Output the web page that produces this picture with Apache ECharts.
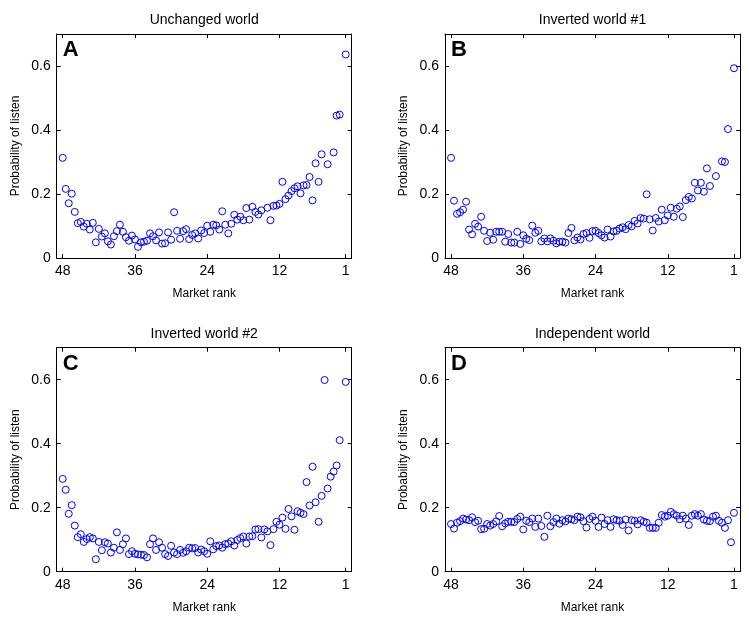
<!DOCTYPE html>
<html>
<head>
<meta charset="utf-8">
<script src="https://cdn.jsdelivr.net/npm/echarts@6/dist/echarts.min.js"></script>
<style>
  html, body { margin: 0; padding: 0; background: #fff; }
  #chart { width: 749px; height: 620px; }
</style>
</head>
<body>
<div id="chart"></div>
<script>
// market rank of each point (shared by all four worlds)
const ranks = [48, 47.5, 47, 46.5, 46, 45.5, 45, 44.5, 44, 43.5, 43, 42.5, 42, 41.5, 41, 40.5,
  40, 39.5, 39, 38.5, 38, 37.5, 37, 36.5, 36, 35.5, 35, 34.5, 34, 33.5, 33, 32.5, 32, 31.5,
  31, 30.5, 30, 29.5, 29, 28.5, 28, 27.5, 27, 26.5, 26, 25.5, 25, 24.5, 24, 23.5, 23, 22.5,
  22, 21.5, 21, 20.5, 20, 19.5, 19, 18.5, 18, 17.5, 17, 16.5, 16, 15.5, 15, 14.5, 14, 13.5,
  13, 12.5, 12, 11.5, 11, 10.5, 10, 9.5, 9, 8.5, 8, 7.5, 7, 6.5, 6, 5.5, 5, 4.5, 4, 3.5,
  3, 2.5, 2, 1.5, 1];

// probability of listen, one value per rank (null = no point)
const probUnchanged = [0.313, 0.216, 0.171, 0.201, 0.144, 0.109, 0.113, 0.098, 0.107, 0.089,
  0.110, 0.049, 0.091, 0.067, 0.077, 0.052, 0.042, 0.068, 0.084, 0.104,
  0.082, 0.065, 0.054, 0.070, 0.058, 0.035, 0.049, 0.051, 0.054, 0.077,
  0.068, 0.055, 0.080, 0.045, 0.046, 0.080, 0.057, 0.143, 0.085, 0.060,
  0.084, 0.090, 0.059, 0.072, 0.077, 0.061, 0.086, 0.078, 0.101, 0.082,
  0.104, 0.102, 0.089, 0.146, 0.104, 0.077, 0.107, 0.135, 0.120, 0.129,
  0.118, 0.156, 0.120, 0.160, 0.144, 0.136, 0.149, null, 0.157, 0.118,
  0.163, 0.164, 0.169, 0.238, 0.184, 0.195, 0.209, 0.218, 0.224, 0.202,
  0.227, 0.228, 0.253, 0.180, 0.296, 0.238, 0.324, null, 0.293, null,
  0.330, 0.445, 0.448, null, 0.636];

const probInverted1 = [0.313, 0.179, 0.138, 0.143, 0.151, 0.176, 0.089, 0.074, 0.107, 0.098,
  0.129, 0.085, 0.053, 0.079, 0.057, 0.082, 0.082, 0.082, 0.051, 0.075,
  0.048, 0.048, 0.082, 0.044, 0.071, 0.060, 0.056, 0.101, 0.079, 0.085,
  0.052, 0.061, 0.052, 0.061, 0.054, 0.046, 0.051, 0.051, 0.048, 0.078,
  0.094, 0.055, 0.064, 0.058, 0.075, 0.078, 0.063, 0.084, 0.085, 0.078,
  0.071, 0.064, 0.089, 0.067, 0.083, 0.085, 0.092, 0.096, 0.090, 0.103,
  0.099, 0.116, 0.108, 0.125, 0.123, 0.199, 0.121, 0.086, 0.125, 0.114,
  0.151, 0.118, 0.133, 0.157, 0.129, 0.154, 0.161, 0.128, 0.181, 0.191,
  0.186, 0.235, 0.211, 0.235, 0.207, 0.280, 0.225, null, 0.256, null,
  0.302, 0.300, 0.403, null, 0.593];

const probInverted2 = [0.290, 0.256, 0.181, 0.208, 0.144, 0.108, 0.117, 0.093, 0.102, 0.108,
  0.104, 0.039, 0.093, 0.067, 0.092, 0.088, 0.060, 0.075, 0.123, 0.068,
  0.086, 0.104, 0.055, 0.064, 0.056, 0.054, 0.053, 0.052, 0.045, 0.086,
  0.104, 0.068, 0.092, 0.075, 0.055, 0.049, 0.081, 0.060, 0.055, 0.068,
  0.059, 0.064, 0.075, 0.073, 0.074, 0.060, 0.069, 0.064, 0.056, 0.095,
  0.070, 0.080, 0.082, 0.075, 0.086, 0.088, 0.095, 0.082, 0.099, 0.105,
  0.110, 0.088, 0.110, 0.111, 0.132, 0.133, 0.107, 0.132, 0.126, 0.083,
  0.133, 0.156, 0.147, 0.169, 0.134, 0.196, 0.173, 0.131, 0.189, 0.184,
  0.180, 0.280, 0.207, 0.328, 0.217, 0.156, 0.237, 0.599, 0.260, 0.297,
  0.313, 0.332, 0.411, null, 0.593];

const probIndependent = [0.149, 0.135, 0.153, 0.158, 0.166, 0.163, 0.161, 0.170, 0.155, 0.159,
  0.133, 0.134, 0.149, 0.144, 0.149, 0.157, 0.174, 0.142, 0.151, 0.156,
  0.156, 0.155, 0.165, 0.172, 0.132, 0.159, 0.155, 0.166, 0.140, 0.166,
  0.143, 0.109, 0.175, 0.142, 0.155, 0.166, 0.150, 0.161, 0.157, 0.166,
  0.164, 0.161, 0.172, 0.170, 0.158, 0.138, 0.165, 0.172, 0.159, 0.140,
  0.169, 0.149, 0.161, 0.140, 0.164, 0.161, 0.159, 0.146, 0.163, 0.129,
  0.161, 0.159, 0.148, 0.161, 0.156, 0.153, 0.137, 0.137, 0.137, 0.153,
  0.177, 0.172, 0.175, 0.187, 0.180, 0.175, 0.164, 0.175, 0.166, 0.146,
  0.175, 0.180, 0.175, 0.180, 0.163, 0.159, 0.158, 0.172, 0.175, 0.159,
  0.153, 0.137, 0.161, 0.092, 0.184];

const xTicks = [48, 36, 24, 12, 1];
const yTicks = [0, 0.2, 0.4, 0.6];

const panels = [
  { title: 'Unchanged world', letter: 'A', values: probUnchanged, left: 56.7, top: 34 },
  { title: 'Inverted world #1', letter: 'B', values: probInverted1, left: 445, top: 34 },
  { title: 'Inverted world #2', letter: 'C', values: probInverted2, left: 56.7, top: 347.7 },
  { title: 'Independent world', letter: 'D', values: probIndependent, left: 445, top: 347.7 }
];
const plotW = 295;
const plotH = 224;
const font = '"Liberation Sans", Arial, Helvetica, sans-serif';

const chart = echarts.init(document.getElementById('chart'), null, { renderer: 'canvas' });

const grid = [], xAxis = [], yAxis = [], series = [], graphic = [];

const tickStyle = { inside: true, length: 4, lineStyle: { color: '#000', width: 1 } };
const lineStyle = { show: true, onZero: false, lineStyle: { color: '#000', width: 1 } };

panels.forEach((p, i) => {
  grid.push({ left: p.left, top: p.top, width: plotW, height: plotH });

  // bottom axis with labels + top axis as box edge
  xAxis.push({
    type: 'value', gridIndex: i, min: 0, max: 49, inverse: true, position: 'bottom',
    axisLine: lineStyle,
    axisTick: Object.assign({ customValues: xTicks }, tickStyle),
    axisLabel: { customValues: xTicks, color: '#000', fontSize: 14, fontFamily: font, margin: 6 },
    splitLine: { show: false },
    name: 'Market rank', nameLocation: 'middle', nameGap: 30,
    nameTextStyle: { color: '#000', fontSize: 12, fontFamily: font }
  });
  xAxis.push({
    type: 'value', gridIndex: i, min: 0, max: 49, inverse: true, position: 'top',
    axisLine: lineStyle,
    axisTick: Object.assign({ customValues: xTicks }, tickStyle),
    axisLabel: { show: false },
    splitLine: { show: false }
  });

  yAxis.push({
    type: 'value', gridIndex: i, min: 0, max: 0.7, position: 'left',
    axisLine: lineStyle,
    axisTick: Object.assign({ customValues: yTicks }, tickStyle),
    axisLabel: {
      customValues: yTicks, color: '#000', fontSize: 14, fontFamily: font, margin: 6,
      formatter: v => (v === 0 ? '0' : v.toFixed(1))
    },
    splitLine: { show: false },
    name: 'Probability of listen', nameLocation: 'middle', nameGap: 35,
    nameTextStyle: { color: '#000', fontSize: 12, fontFamily: font }
  });
  yAxis.push({
    type: 'value', gridIndex: i, min: 0, max: 0.7, position: 'right',
    axisLine: lineStyle,
    axisTick: Object.assign({ customValues: yTicks }, tickStyle),
    axisLabel: { show: false },
    splitLine: { show: false }
  });

  const pts = [];
  ranks.forEach((r, k) => {
    if (p.values[k] != null) pts.push([r, p.values[k]]);
  });

  series.push({
    type: 'scatter', xAxisIndex: i * 2, yAxisIndex: i * 2,
    data: pts, symbol: 'circle', symbolSize: 7,
    itemStyle: { color: 'rgba(0,0,0,0)', borderColor: '#0000ff', borderWidth: 1, opacity: 1 },
    emphasis: { disabled: true },
    silent: true
  });

  // panel title and letter
  graphic.push({
    type: 'text', x: p.left + plotW / 2, y: p.top - 14,
    style: { text: p.title, font: '14px ' + font, fill: '#000', textAlign: 'center', textVerticalAlign: 'middle' }
  });
  graphic.push({
    type: 'text', x: p.left + 6, y: p.top + 5,
    style: { text: p.letter, font: 'bold 22px ' + font, fill: '#000', textAlign: 'left', textVerticalAlign: 'top' }
  });
});

chart.setOption({
  animation: false,
  backgroundColor: '#fff',
  grid: grid,
  xAxis: xAxis,
  yAxis: yAxis,
  series: series,
  graphic: graphic
});
</script>
</body>
</html>
